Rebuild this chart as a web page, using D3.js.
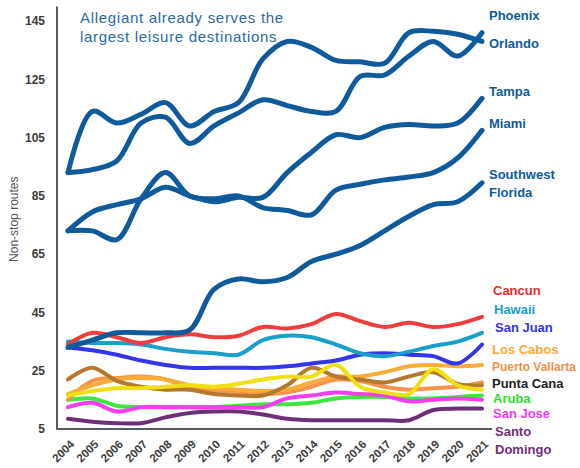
<!DOCTYPE html>
<html>
<head>
<meta charset="utf-8">
<script src="https://cdn.jsdelivr.net/npm/d3@7"></script>
<style>
  body { margin: 0; background: #fff; }
  svg { display: block; font-family: "Liberation Sans", Arial, sans-serif; }
</style>
</head>
<body>
<svg id="chart" width="580" height="468"></svg>
<script>
// data
const years = [2004, 2005, 2006, 2007, 2008, 2009, 2010, 2011, 2012, 2013, 2014, 2015, 2016, 2017, 2018, 2019, 2020, 2021];
const yTicks = [5, 25, 45, 65, 85, 105, 125, 145];

const phoenix   = [93, 94, 97, 110, 112, 103, 109, 113.5, 118, 116, 114, 114, 126, 126.5, 133, 138, 133, 141];
const orlando   = [93, 114, 110, 113, 117, 109, 114, 117, 132, 138, 136, 131.5, 131, 130.5, 141, 141.5, 140.5, 138];
const tampa     = [73, 79.5, 82, 84, 88, 85, 83, 84.5, 84.5, 93, 100, 106, 105, 108.5, 109.5, 109, 110, 118.5];
const miami     = [73, 73, 70, 84, 93, 85, 84, 85, 81, 80, 78.5, 87, 89, 90.5, 91.5, 93, 98, 107.5];
const swFlorida = [33, 35.5, 38, 38, 38, 39, 53, 56.5, 55.5, 57, 62.5, 65, 68, 73, 78, 82, 83, 89.5];
const cancun    = [34, 38, 36.5, 34.5, 36.5, 37.5, 36.5, 37, 40, 39.5, 41, 44.5, 42, 40, 41.5, 40, 41, 43.5];
const hawaii    = [35, 34.5, 34.5, 34, 32.5, 31.5, 31, 30.5, 35.5, 37, 36.5, 34, 31, 30, 31.5, 33.5, 35, 38];
const sanJuan   = [33, 32, 30.5, 28.5, 27, 26, 26, 26, 26, 26.5, 27.5, 28.5, 30.5, 31, 30.5, 30, 27.5, 34];
const losCabos  = [17, 20, 22, 22.5, 22, 20, 19, 18.5, 18, 18.5, 21, 23, 23, 24.5, 26.5, 27, 26.5, 27];
const vallarta  = [15, 21.5, 22.5, 23, 22, 19, 18, 17.5, 17, 17.5, 19.5, 22, 21.5, 19.5, 18.5, 19, 19.5, 21];
const puntaCana = [22, 26, 21.5, 19.5, 18.5, 18.5, 17, 16.5, 16.5, 20, 26, 23, 22, 21, 23, 24.5, 20.5, 20];
const yellowLn  = [16.5, 18, 19, 19, 19.5, 20, 19.5, 20.5, 22, 23, 23, 27, 19.5, 17.5, 17, 25.5, 20, 18.5];
const aruba     = [15, 15.5, 13, 12.5, 12.5, 12.5, 12.5, 13, 13.5, 13.5, 14, 15.5, 16, 16, 15.5, 15.5, 16, 16.5];
const sanJose   = [12.5, 14, 11, 12.5, 12.5, 12.5, 12.5, 12.5, 12.5, 15.5, 16.5, 17.5, 17, 16.5, 14.5, 15, 15.5, 15];
const santoDom  = [8.5, 7.5, 7, 7, 9, 10.5, 11, 11, 10, 8.5, 8, 8, 8, 8, 8, 11.5, 12, 12];

const navy = "#0f5a9a";

// drawing order: back to front
const series = [
  {values: santoDom,  color: "#6e2f78", w: 4},
  {values: aruba,     color: "#3fe63f", w: 4},
  {values: sanJose,   color: "#f43cf0", w: 4},
  {values: vallarta,  color: "#f7944a", w: 4},
  {values: losCabos,  color: "#f9ac3a", w: 4},
  {values: puntaCana, color: "#b5782f", w: 4},
  {values: yellowLn,  color: "#f0e010", w: 4},
  {values: sanJuan,   color: "#3434e8", w: 4},
  {values: hawaii,    color: "#1aa0c8", w: 4},
  {values: cancun,    color: "#f03c3c", w: 4},
  {values: swFlorida, color: navy, w: 5},
  {values: miami,     color: navy, w: 5},
  {values: tampa,     color: navy, w: 5},
  {values: orlando,   color: navy, w: 5},
  {values: phoenix,   color: navy, w: 5}
];

// right-hand labels
const labels = [
  {text: "Phoenix", y: 15, color: navy},
  {text: "Orlando", y: 43, color: navy},
  {text: "Tampa", y: 91, color: navy},
  {text: "Miami", y: 123, color: navy},
  {text: "Southwest", y: 174, color: navy},
  {text: "Florida", y: 192, color: navy},
  {text: "Cancun", y: 290, color: "#ee2a2a", dx: 4},
  {text: "Hawaii", y: 309, color: "#1a9cc8", dx: 5},
  {text: "San Juan", y: 327, color: "#3333e6", dx: 6},
  {text: "Los Cabos", y: 349, color: "#f7aa3a", dx: 3},
  {text: "Puerto Vallarta", y: 367, color: "#f4904a", dx: 3, len: 84, size: 12},
  {text: "Punta Cana", y: 383, color: "#222", dx: 3},
  {text: "Aruba", y: 398, color: "#33dd33", dx: 4},
  {text: "San Jose", y: 413, color: "#f03cee", dx: 4},
  {text: "Santo", y: 431, color: "#6e2f78", dx: 6},
  {text: "Domingo", y: 449, color: "#6e2f78", dx: 6}
];

const svg = d3.select("#chart");

const x = d3.scaleLinear()
    .domain([2004, 2021])
    .range([68, 482]);

const y = d3.scaleLinear()
    .domain([5, 150])
    .range([429, 6.5]);

// axes lines
svg.append("line")
    .attr("x1", 57).attr("x2", 57)
    .attr("y1", y(150)).attr("y2", y(5))
    .attr("stroke", "#555b66").attr("stroke-width", 2);
svg.append("line")
    .attr("x1", 56).attr("x2", 492)
    .attr("y1", y(5)).attr("y2", y(5))
    .attr("stroke", "#555b66").attr("stroke-width", 2);

// y tick labels
svg.append("g")
  .selectAll("text")
  .data(yTicks)
  .join("text")
    .attr("x", 45)
    .attr("y", d => y(d))
    .attr("dy", "0.35em")
    .attr("text-anchor", "end")
    .attr("font-size", 12)
    .attr("font-weight", "bold")
    .attr("fill", "#3c3c3c")
    .text(d => d);

// y title
svg.append("text")
    .attr("transform", `translate(18,${y(77)}) rotate(-90)`)
    .attr("text-anchor", "middle")
    .attr("font-size", 12)
    .attr("fill", "#555")
    .text("Non-stop routes");

// x tick labels
svg.append("g")
  .selectAll("text")
  .data(years)
  .join("text")
    .attr("transform", d => `translate(${x(d) + 7},${y(5) + 16}) rotate(-45)`)
    .attr("text-anchor", "end")
    .attr("font-size", 11.5)
    .attr("font-weight", "bold")
    .attr("fill", "#3c3c3c")
    .text(d => d);

// lines
const line = d3.line()
    .x((d, i) => x(years[i]))
    .y(d => y(d))
    .curve(d3.curveCatmullRom.alpha(0.5));

svg.append("g")
    .attr("fill", "none")
    .attr("stroke-linecap", "round")
    .attr("stroke-linejoin", "round")
  .selectAll("path")
  .data(series)
  .join("path")
    .attr("stroke", d => d.color)
    .attr("stroke-width", d => d.w)
    .attr("d", d => line(d.values));

// series labels
svg.append("g")
  .selectAll("text")
  .data(labels)
  .join("text")
    .attr("x", d => 489 + (d.dx || 0))
    .attr("y", d => d.y)
    .attr("dy", "0.35em")
    .attr("font-size", d => d.size || 13)
    .attr("font-weight", "bold")
    .attr("fill", d => d.color)
    .attr("textLength", d => d.len || null)
    .attr("lengthAdjust", d => d.len ? "spacingAndGlyphs" : null)
    .text(d => d.text);

// title
svg.append("text")
    .attr("x", 80)
    .attr("font-size", 15)
    .attr("letter-spacing", 0.7)
    .attr("fill", "#2a6aa6")
  .selectAll("tspan")
  .data(["Allegiant already serves the", "largest leisure destinations"])
  .join("tspan")
    .attr("x", 80)
    .attr("y", (d, i) => 23 + i * 19)
    .text(d => d);
</script>
</body>
</html>
